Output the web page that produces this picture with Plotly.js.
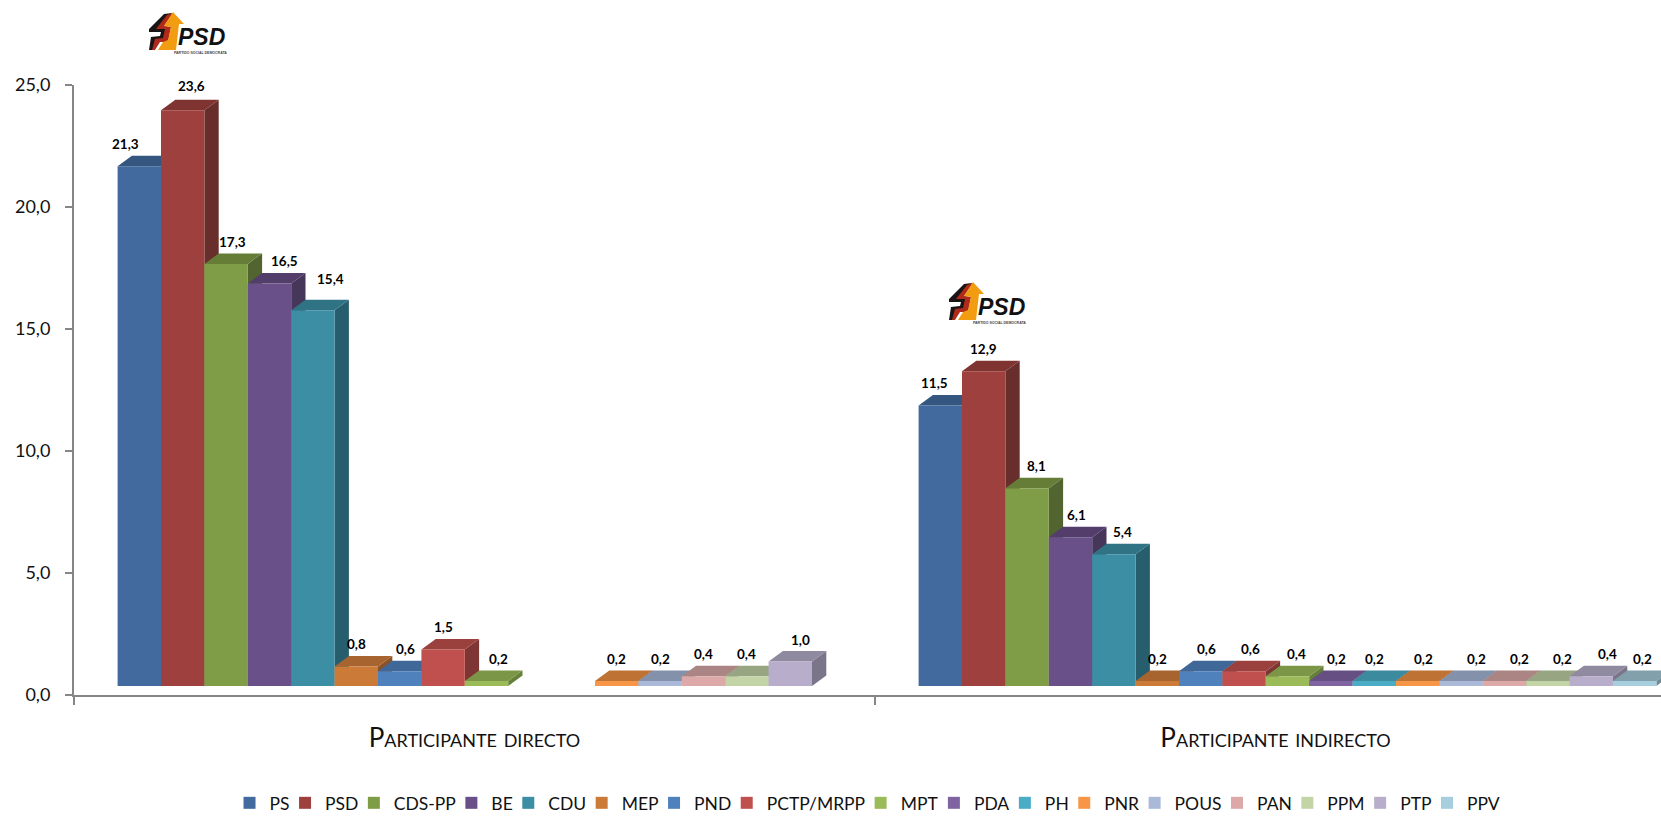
<!DOCTYPE html>
<html><head><meta charset="utf-8">
<script src="https://cdn.plot.ly/plotly-3.0.1.min.js"></script>
<style>html,body{margin:0;padding:0;background:#fff;overflow:hidden}</style>
</head><body><div id="chart" style="width:1661px;height:816px"></div>
<script>
// ---- data ----
const categories = ['Participante directo', 'Participante indirecto'];
const seriesNames = ['PS','PSD','CDS-PP','BE','CDU','MEP','PND','PCTP/MRPP','MPT','PDA','PH','PNR','POUS','PAN','PPM','PTP','PPV'];
const valuesDirecto   = [21.3,23.6,17.3,16.5,15.4,0.8,0.6,1.5,0.2,null,null,0.2,0.2,0.4,0.4,1.0,null];
const valuesIndirecto = [11.5,12.9,8.1,6.1,5.4,0.2,0.6,0.6,0.4,0.2,0.2,0.2,0.2,0.2,0.2,0.4,0.2];

// ---- styles ----
const frontColors = ['#426A9E','#9E413E','#7F9C47','#6A5088','#3C8EA5','#CC7A38','#4F81BD','#C0504D','#9BBB59','#8064A2','#4BACC6','#F79646','#AAB9D8','#DDA9A8','#C3D5A7','#B8AECB','#A6CEDD'];
const topColors   = ['#34567F','#7F3432','#667D38','#533E6B','#2F7385','#A8642E','#3F6797','#9A403D','#7C9647','#664F82','#3C8A9E','#BE7233','#8491AA','#AA8583','#97A583','#908AA0','#82A0AC'];
const sideColors  = ['#2B4668','#672E2B','#526530','#45365A','#275E6D','#8A5226','#34557C','#7E3634','#658038','#544169','#317182','#9C5E2A','#6C778C','#8C6D6C','#7C886C','#7B7589','#708A94'];

// label nudges in pixels [x, y], relative to the default spot over the bar
const nudgeDirecto = [[-14,0],[9,2],[6,0],[15,0],[18,9],[0,0],[6,0],[0,0],[12,0],[0,0],[0,0],[0,0],[0,0],[0,0],[0,0],[10,0],[0,0]];
const nudgeIndirecto = [[-6,0],[0,0],[9,0],[6,0],[9,0],[0,0],[6,0],[6,0],[9,0],[6,0],[0,0],[6,0],[15,0],[15,0],[15,0],[16,0],[8,0]];

// ---- geometry (px) ----
const W = 1661, H = 816, L = 74, T = 85, B = 121;
const catPx = 801, barPx = 43.4, unitPx = 24.4;
const barW = barPx / catPx;                // category units
const startOffset = (117.6 - 474.5) / catPx;
const floorY = 9 / unitPx;                 // bars stand on a floor above the axis
const depthX = 14.3 / catPx, depthY = 10.5 / unitPx;

const traces = seriesNames.map((name, i) => ({
  type: 'bar', name,
  x: [0, 1],
  y: [valuesDirecto[i], valuesIndirecto[i]],
  base: floorY,
  width: barW,
  offset: startOffset + i * barW,
  marker: {color: frontColors[i], line: {width: 0}},
  hoverinfo: 'name+y'
}));

const shapes = [], annotations = [];
[valuesDirecto, valuesIndirecto].forEach((vals, c) => {
  const nudges = c === 0 ? nudgeDirecto : nudgeIndirecto;
  vals.forEach((v, i) => {
    if (v === null) return;
    const x0 = c + startOffset + i * barW, x1 = x0 + barW, top = v + floorY;
    shapes.push({type:'path', layer:'below', xref:'x', yref:'y', line:{width:0}, fillcolor:sideColors[i],
      path:`M${x1},${floorY} L${x1+depthX},${floorY+depthY} L${x1+depthX},${top+depthY} L${x1},${top} Z`});
    shapes.push({type:'path', layer:'below', xref:'x', yref:'y', line:{width:0}, fillcolor:topColors[i],
      path:`M${x0},${top} L${x0+depthX},${top+depthY} L${x1+depthX},${top+depthY} L${x1},${top} Z`});
    annotations.push({x:(x0+x1)/2, y:top, xref:'x', yref:'y', text:v.toFixed(1).replace('.',','),
      showarrow:false, xanchor:'center', yanchor:'middle', xshift:nudges[i][0], yshift:22+nudges[i][1],
      font:{family:'Lato, sans-serif', size:13.5, color:'#000', weight:700}});
  });
});

// ---- logo, drawn twice ----
const px = x => (x - L) / (W - L);
const py = y => 1 - (y - T) / (H - T - B);
function poly(pts, ox, oy, color){
  const d = pts.map((p,k)=>(k?'L':'M')+px(ox+p[0])+','+py(oy+p[1])).join(' ')+' Z';
  shapes.push({type:'path', xref:'paper', yref:'paper', path:d, fillcolor:color, line:{width:0}, layer:'above'});
}
const logoBlack = [[9,24],[24,9],[32,8],[22,21],[29,22],[26,36],[17,36],[13,45],[9,45],[11,32],[20,31],[21,27],[9,27]];
const logoRed = [[16,24],[27,10],[33,8],[24,21],[31,22],[28,37],[20,37],[15,45],[12,45],[15,34],[23,33],[25,24]];
const logoOrange = [[33,7],[44,19],[39,19],[36,45],[18,45],[23,37],[28,35],[31,22],[24,21]];
[[940,275],[140,5]].forEach(([ox,oy]) => {
  poly(logoBlack, ox, oy, '#1a1414');
  poly(logoRed, ox, oy, '#b02a1c');
  poly(logoOrange, ox, oy, '#f29c12');
  annotations.push({xref:'paper', yref:'paper', x:px(ox+61), y:py(oy+32), text:'PSD', showarrow:false,
    xanchor:'center', yanchor:'middle',
    font:{family:'Liberation Sans, sans-serif', size:23, color:'#111', weight:700, style:'italic'}});
  annotations.push({xref:'paper', yref:'paper', x:px(ox+60), y:py(oy+48), text:'PARTIDO SOCIAL DEMOCRATA', showarrow:false,
    xanchor:'center', yanchor:'middle',
    font:{family:'Liberation Sans, sans-serif', size:3.5, color:'#444', weight:700}});
});

const layout = {
  width: W, height: H,
  margin: {l: L, r: 0, t: T, b: B, pad: 0},
  paper_bgcolor: '#fff', plot_bgcolor: '#fff',
  barmode: 'overlay',
  separators: ', ',
  showlegend: true,
  legend: {orientation:'h', x:0.525, xref:'container', xanchor:'center', y:0.016, yref:'container', yanchor:'middle',
    indentation:-9.5,
    font:{family:'Lato, sans-serif', size:17.5, color:'#111'}, itemclick:false, itemdoubleclick:false, traceorder:'normal'},
  xaxis: {
    type:'linear', range:[-0.5, -0.5 + (W - L) / catPx], fixedrange:true,
    tickvals:[0,1], ticktext:categories, ticks:'', showgrid:false, zeroline:false,
    showline:true, linecolor:'#868686', linewidth:2,
    tickfont:{family:'Lato, sans-serif', size:26, color:'#111', variant:'small-caps'},
    ticklabelstandoff: 19,
    minor:{tickvals:[-0.5,0.5,1.5], ticks:'outside', ticklen:8, tickwidth:2, tickcolor:'#868686', showgrid:false}
  },
  yaxis: {
    range:[0,25], dtick:5, tickformat:'.1f', fixedrange:true, showgrid:false, zeroline:false,
    showline:true, linecolor:'#868686', linewidth:2,
    ticks:'outside', ticklen:7, tickwidth:2, tickcolor:'#868686',
    ticklabelstandoff: 11,
    tickfont:{family:'Lato, sans-serif', size:18, color:'#111'}
  },
  shapes, annotations
};
Plotly.newPlot('chart', traces, layout, {displayModeBar:false, responsive:false});
</script></body></html>
